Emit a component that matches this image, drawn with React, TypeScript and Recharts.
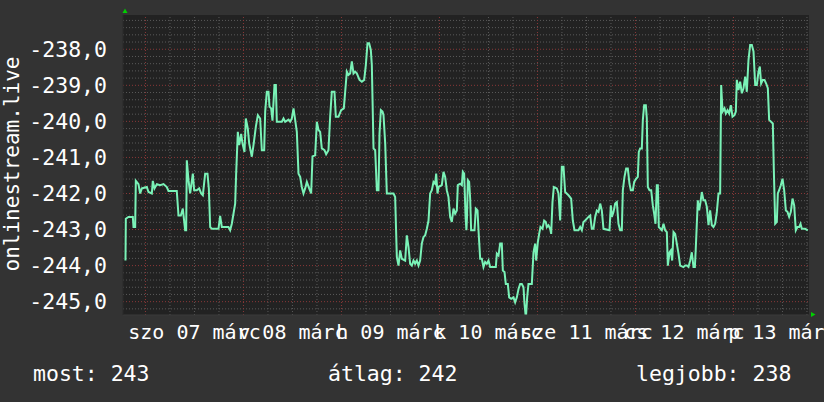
import React from 'react';
import { LineChart, Line, XAxis, YAxis, ReferenceLine, ReferenceArea } from 'recharts';

// hours since 2026-03-07 00:00, and the sampled reading at that time
const hours = [
  -4.89, -4.81, -4.16, -3.09, -2.93, -2.52, -2.36, -1.71, -1.3, -0.89,
  0.33, 0.74, 1.56, 1.8, 2.21, 2.79, 3.6, 4.42, 5.23, 5.64,
  7.67, 8.09, 8.66, 9.15, 9.72, 9.97, 10.13, 10.54, 10.95, 11.6,
  11.93, 12.58, 13.15, 13.64, 14.05, 14.62, 15.19, 15.52, 15.85, 16.25,
  17.89, 18.29, 18.7, 20.33, 20.74, 21.15, 21.97, 22.21, 22.62, 22.95,
  23.44, 23.76, 24.25, 24.58, 25.07, 25.4, 26.05, 26.46, 27.03, 27.52,
  28.09, 28.5, 29.07, 29.32, 29.72, 30.13, 30.38, 30.78, 31.11, 31.6,
  31.93, 32.17, 33.4, 33.81, 34.22, 35.03, 35.44, 35.85, 36.26, 36.66,
  37.07, 37.48, 37.89, 38.29, 38.7, 39.11, 39.52, 40.09, 40.58, 40.91,
  41.56, 41.97, 42.38, 42.78, 43.19, 43.85, 44.25, 44.82, 45.23, 45.64,
  46.29, 46.62, 47.27, 47.93, 48.58, 48.91, 49.32, 49.72, 50.13, 50.54,
  50.95, 51.36, 51.76, 52.42, 52.99, 53.56, 53.97, 54.38, 54.78, 55.19,
  55.44, 55.85, 56.26, 56.67, 57.07, 57.32, 57.65, 58.06, 58.3, 58.71,
  59.11, 60.74, 61.15, 61.56, 61.97, 62.38, 62.78, 63.6, 64.01, 64.42,
  64.82, 65.23, 65.64, 66.05, 66.46, 66.87, 67.27, 67.68, 68.09, 68.5,
  68.91, 69.32, 69.72, 70.13, 70.54, 70.95, 71.19, 71.52, 71.76, 72.58,
  72.99, 73.4, 73.8, 74.21, 74.62, 75.03, 75.44, 75.84, 76.25, 76.5,
  77.07, 77.48, 77.72, 78.05, 78.4, 78.6, 78.75, 78.95, 79.27, 79.52,
  79.76, 80.58, 80.91, 81.32, 81.56, 81.97, 82.38, 82.78, 83.19, 83.6,
  84.01, 84.42, 85.8, 86.05, 86.46, 86.87, 87.27, 87.52, 87.93, 88.25,
  88.74, 89.07, 89.56, 90.13, 90.54, 90.95, 91.36, 91.76, 92.17, 92.58,
  92.83, 93.07, 93.23, 93.48, 93.8, 94.62, 95.03, 95.44, 95.68, 96.09,
  96.42, 96.74, 97.23, 97.64, 98.05, 98.29, 98.7, 99.11, 99.36, 99.68,
  100.01, 100.74, 101.15, 101.56, 101.97, 102.38, 102.78, 103.6, 104.25, 104.66,
  105.07, 106.05, 106.46, 106.87, 107.27, 107.68, 108.5, 108.91, 109.31, 109.72,
  110.13, 110.54, 110.95, 111.36, 111.76, 112.17, 113.64, 113.97, 114.21, 114.62,
  115.03, 115.44, 115.84, 116.25, 116.66, 116.91, 117.31, 117.72, 118.13, 118.54,
  118.87, 119.36, 119.69, 120.17, 120.58, 120.82, 121.15, 121.56, 121.81, 122.13,
  122.54, 122.78, 123.03, 123.44, 123.85, 124.25, 124.58, 124.91, 125.23, 125.48,
  125.72, 126.46, 126.87, 127.27, 127.68, 127.93, 128.34, 128.66, 128.99, 129.32,
  129.72, 130.13, 130.54, 130.95, 131.76, 132.17, 132.58, 132.99, 133.4, 133.8,
  134.21, 134.55, 134.75, 135.27, 135.6, 135.93, 136.25, 136.66, 137.07, 137.48,
  137.89, 138.29, 138.7, 139.11, 139.52, 139.93, 140.34, 140.74, 140.99, 141.32,
  141.81, 142.13, 142.54, 142.95, 143.36, 143.77, 144.25, 144.58, 144.82, 145.23,
  145.64, 146.05, 146.46, 146.87, 147.27, 147.68, 148.09, 148.5, 148.91, 149.32,
  149.72, 150.13, 150.46, 150.78, 151.19, 151.6, 152.01, 152.42, 152.74, 153.64,
  153.89, 154.22, 154.62, 154.87, 155.19, 155.6, 156.01, 156.42, 156.83, 157.23,
  157.64, 158.05, 158.46, 158.87, 159.27, 159.68, 160.09, 160.42, 160.74, 161.56,
  162.21,
];

const values = [
  -243.86, -242.7, -242.65, -242.65, -242.93, -242.93, -241.65, -241.74, -242.0, -241.86,
  -241.82, -241.96, -242.0, -241.65, -241.86, -241.74, -241.77, -241.74, -241.82, -241.93,
  -241.93, -242.61, -242.61, -242.42, -243.02, -243.02, -241.08, -241.63, -242.0, -241.45,
  -241.91, -241.91, -241.86, -242.0, -242.05, -241.45, -241.45, -241.86, -242.93, -242.98,
  -242.98, -242.62, -242.93, -242.93, -243.02, -242.84, -242.28, -241.45, -240.29, -240.66,
  -240.35, -240.61, -240.85, -239.92, -240.2, -240.61, -240.98, -240.66, -240.15, -239.83,
  -239.92, -240.8, -240.8, -239.73, -239.18, -239.18, -239.59, -239.64, -239.98, -238.99,
  -238.99, -240.01, -240.01, -239.92, -240.01, -239.95, -240.01, -239.92, -239.64, -239.96,
  -240.29, -241.45, -241.54, -241.82, -242.0, -241.86, -241.68, -241.86, -242.0, -240.97,
  -240.94, -240.01, -240.24, -240.29, -240.75, -240.8, -240.91, -240.8, -239.87, -239.18,
  -239.18, -239.87, -239.87, -239.69, -239.64, -239.18, -238.62, -238.71, -238.67, -238.34,
  -238.67, -238.62, -238.67, -238.85, -238.9, -238.85, -238.44, -237.83, -237.83, -238.02,
  -238.44, -240.75, -240.8, -241.91, -241.91, -240.34, -239.69, -239.73, -239.83, -240.61,
  -242.0, -242.0, -242.1, -243.76, -244.0, -243.58, -243.81, -243.86, -243.16, -243.49,
  -243.95, -244.0, -243.86, -243.95, -243.86, -244.0, -243.86, -243.39, -243.21, -243.16,
  -242.98, -242.75, -242.0, -241.91, -241.68, -241.73, -241.45, -242.0, -241.82, -241.77,
  -241.4, -241.54, -241.91, -242.1, -242.65, -242.79, -242.42, -242.56, -242.47, -241.77,
  -241.73, -241.77, -241.4, -241.45, -242.65, -243.02, -242.65, -241.63, -241.68, -242.14,
  -243.02, -243.02, -242.42, -242.47, -243.02, -243.81, -243.81, -244.04, -243.9, -243.95,
  -243.86, -244.04, -244.04, -243.67, -243.72, -243.39, -243.39, -244.14, -244.18, -244.51,
  -244.51, -244.88, -244.92, -244.88, -245.02, -244.88, -244.65, -244.51, -244.51, -244.6,
  -245.06, -245.34, -245.34, -244.88, -244.51, -244.51, -243.63, -243.39, -243.86, -243.35,
  -243.12, -242.93, -242.98, -242.75, -242.79, -242.93, -242.88, -242.98, -243.12, -242.24,
  -241.82, -241.86, -242.0, -242.75, -241.26, -241.26, -241.96, -242.05, -242.14, -242.75,
  -243.02, -243.02, -242.93, -243.02, -242.79, -242.75, -242.65, -242.61, -242.98, -242.98,
  -242.65, -242.47, -242.51, -242.28, -242.47, -242.98, -243.02, -242.33, -242.65, -242.51,
  -242.28, -242.24, -242.84, -243.02, -243.02, -241.91, -241.54, -241.31, -241.31, -241.73,
  -241.91, -241.91, -241.68, -241.59, -241.54, -240.85, -240.75, -240.75, -239.96, -239.55,
  -239.55, -239.92, -241.82, -241.91, -241.91, -242.33, -242.56, -242.84, -241.77, -241.77,
  -242.93, -243.02, -242.84, -243.02, -243.07, -244.0, -243.63, -243.58, -243.86, -243.07,
  -243.12, -243.39, -243.67, -244.0, -244.04, -244.0, -244.0, -244.04, -243.86, -243.63,
  -244.04, -244.04, -243.58, -242.19, -242.47, -242.24, -241.96, -242.19, -242.19, -242.37,
  -242.88, -242.47, -242.88, -242.93, -242.84, -242.51, -242.0, -242.0, -238.99, -239.73,
  -239.64, -239.78, -239.69, -239.78, -239.55, -239.87, -239.83, -239.73, -238.85, -239.13,
  -238.9, -239.22, -239.08, -238.76, -239.18, -238.3, -237.88, -237.88, -238.06, -238.99,
  -238.99, -238.62, -238.48, -238.95, -238.85, -238.85, -238.95, -239.08, -239.96, -240.06,
  -241.35, -242.84, -242.79, -242.0, -241.91, -241.77, -241.59, -241.91, -242.47, -242.51,
  -242.65, -242.51, -242.14, -242.33, -243.02, -242.93, -242.93, -242.84, -242.98, -242.98,
  -243.02,
];

const yTicks = [-245, -244, -243, -242, -241, -240, -239, -238];
const dayTickHours = [12, 36, 60, 84, 108, 132, 156];
const dayTickLabels = ['szo 07 márc', 'v 08 márc', 'h 09 márc', 'k 10 márc', 'sze 11 márc', 'cs 12 márc', 'p 13 márc'];
const legendLabels = ['most', 'átlag', 'legjobb'];
const legendValues = [243, 242, 238];
const unitLabel = 'onlinestream.live';

const X_DOMAIN: [number, number] = [-5.5, 162.5];
const Y_DOMAIN: [number, number] = [-245.37, -237.05];

const FONT = 'DejaVu Sans Mono';
const BG = '#333333';
const PLOT_BG = '#222222';
const MINOR = '#5a5a5a';
const MAJOR = '#8a3838';
const LINE = '#7af2b7';

const minorY = Array.from({ length: 41 }, (_, i) => Number((-245.2 + i * 0.2).toFixed(1))).filter(v => v % 1 !== 0);
const majorY = yTicks;
const minorX = Array.from({ length: 28 }, (_, i) => i * 6).filter(h => h % 24 !== 0);
const majorX = [0, 24, 48, 72, 96, 120, 144];

const data = hours.map((h, i) => ({ h, v: values[i] }));

const legendX = [33, 328, 636];

export default function App() {
  return (
    <div style={{ position: 'absolute', left: 0, top: 0, width: 824, height: 402, background: BG, overflow: 'hidden' }}>
      <LineChart width={824} height={402} data={data} margin={{ top: 15, right: 15, left: 0, bottom: 57 }}>
        <XAxis
          type="number"
          dataKey="h"
          domain={X_DOMAIN}
          allowDataOverflow
          ticks={dayTickHours}
          interval={0}
          tickFormatter={(h: number) => dayTickLabels[dayTickHours.indexOf(h)]}
          tickLine={false}
          tickSize={0}
          tickMargin={10}
          height={30}
          axisLine={{ stroke: '#3a3a3a' }}
          tick={{ fill: '#ffffff', fontSize: 20, fontFamily: FONT }}
        />
        <YAxis
          type="number"
          domain={Y_DOMAIN}
          allowDataOverflow
          ticks={yTicks}
          interval={0}
          tickFormatter={(v: number) => v.toFixed(1).replace('.', ',')}
          tickLine={false}
          tickSize={0}
          tickMargin={16}
          width={123}
          axisLine={{ stroke: '#2a2a2a' }}
          tick={{ fill: '#ffffff', fontSize: 21.5, fontFamily: FONT }}
        />
        <ReferenceArea x1={X_DOMAIN[0]} x2={X_DOMAIN[1]} y1={Y_DOMAIN[0]} y2={Y_DOMAIN[1]} fill={PLOT_BG} fillOpacity={1} stroke="none" />
        {minorY.map(v => (
          <ReferenceLine key={`my${v}`} y={v} stroke={MINOR} strokeDasharray="1 2" />
        ))}
        {minorX.map(h => (
          <ReferenceLine key={`mx${h}`} x={h} stroke={MINOR} strokeDasharray="1 2" />
        ))}
        {majorY.map(v => (
          <ReferenceLine key={`My${v}`} y={v} stroke={MAJOR} strokeDasharray="1 2" />
        ))}
        {majorX.map(h => (
          <ReferenceLine key={`Mx${h}`} x={h} stroke={MAJOR} strokeDasharray="1 2" />
        ))}
        <Line type="linear" dataKey="v" stroke={LINE} strokeWidth={2} dot={false} isAnimationActive={false} />
      </LineChart>
      <svg width={824} height={402} style={{ position: 'absolute', left: 0, top: 0, pointerEvents: 'none' }}>
        <polygon points="122.5,13 125,8.5 127.5,13" fill="#00d000" />
        <polygon points="811,312 815.5,314.5 811,317" fill="#00d000" />
        <text
          transform="translate(19,164) rotate(-90)"
          textAnchor="middle"
          fill="#ffffff"
          fontSize={21}
          fontFamily={FONT}
        >
          {unitLabel}
        </text>
        {legendLabels.map((label, i) => (
          <text key={label} x={legendX[i]} y={381} fill="#ffffff" fontSize={21.5} fontFamily={FONT}>
            {`${label}: ${legendValues[i]}`}
          </text>
        ))}
      </svg>
    </div>
  );
}
